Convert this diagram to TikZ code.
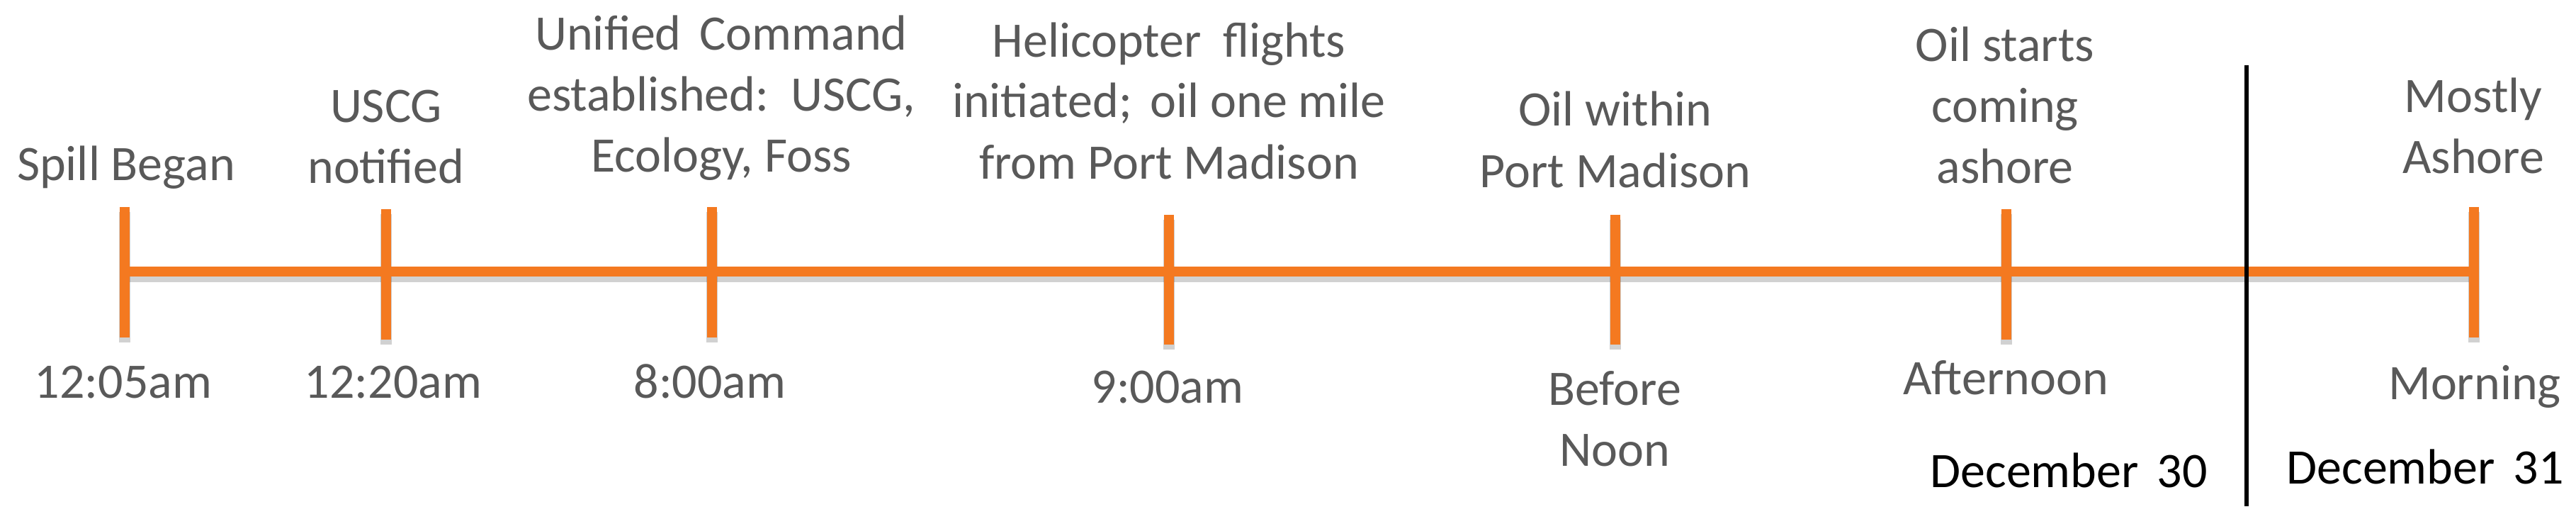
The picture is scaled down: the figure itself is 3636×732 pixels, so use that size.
\documentclass[tikz,border=0pt]{standalone}
\usepackage{fontspec}
\setmainfont{Carlito}
\definecolor{tlorange}{RGB}{244,121,32}
\definecolor{txtgray}{RGB}{89,89,89}
\begin{document}
\begin{tikzpicture}[x=0.2pt,y=-0.2pt,
  lbl/.style={align=center, inner sep=0pt, anchor=base, text=txtgray, font=\fontsize{14}{17.2}\selectfont},
  datelbl/.style={lbl, text=black},
  axis/.style={draw=tlorange, line width=2.8pt},
  tickmark/.style={draw=tlorange, line width=2.7pt},
  shade/.style={draw=black, opacity=0.18, line width=3.2pt},
  divider/.style={draw=black, line width=1.3pt}]
\useasboundingbox (0,0) rectangle (3636,732);
\fill[white] (0,0) rectangle (3636,732);
% timeline points
\coordinate (t1) at (176,383);
\coordinate (t7) at (3492,383);
% tick ends
\coordinate (a1) at (176,292);  \coordinate (b1) at (176,476);
\coordinate (a2) at (545,295);  \coordinate (b2) at (545,479);
\coordinate (a3) at (1005,292); \coordinate (b3) at (1005,476);
\coordinate (a4) at (1650,303); \coordinate (b4) at (1650,486);
\coordinate (a5) at (2280,303); \coordinate (b5) at (2280,486);
\coordinate (a6) at (2832,295); \coordinate (b6) at (2832,479);
\coordinate (a7) at (3492,292); \coordinate (b7) at (3492,476);
% shadows
\draw[shade] ([yshift=-1.4pt]t1) -- ([yshift=-1.4pt]t7);
\foreach \i in {1,...,7}{\draw[shade] ([yshift=-1.4pt]a\i) -- ([yshift=-1.4pt]b\i);}
% axis and ticks
\draw[axis] (t1) -- (t7);
\foreach \i in {1,...,7}{\draw[tickmark] (a\i) -- (b\i);}
% divider
\coordinate (d1) at (3171,92);
\coordinate (d2) at (3171,714);
\draw[divider] (d1) -- (d2);
% upper labels (anchor = baseline of last line)
\node[lbl] (u1) at (178,255) {Spill Began};
\node[lbl] (u2) at (545,259) {USCG\\notified};
\node[lbl] (u3) at (1018,243) {Unified\hspace{2pt} Command\\established:\hspace{2pt} USCG,\\Ecology, Foss};
\node[lbl] (u4) at (1650,252) {Helicopter\hspace{3pt} flights\\initiated;\hspace{2pt} oil one mile\\from Port Madison};
\node[lbl] (u5) at (2280,264) {Oil within\\Port Madison};
\node[lbl] (u6) at (2830,259) {Oil starts\\coming\\ashore};
\node[lbl] (u7) at (3491,245) {Mostly\\Ashore};
% lower labels
\node[lbl] (l1) at (174,561) {12:05am};
\node[lbl] (l2) at (555,561) {12:20am};
\node[lbl] (l3) at (1002,561) {8:00am};
\node[lbl] (l4) at (1648,568) {9:00am};
\node[lbl] (l5) at (2279,657) {Before\\Noon};
\node[lbl] (l6) at (2831,556) {Afternoon};
\node[lbl] (l7) at (3493,563) {Morning};
% dates
\node[datelbl] (dA) at (2920,687) {December\hspace{2pt} 30};
\node[datelbl] (dB) at (3423,682) {December\hspace{2pt} 31};
\end{tikzpicture}
\end{document}
